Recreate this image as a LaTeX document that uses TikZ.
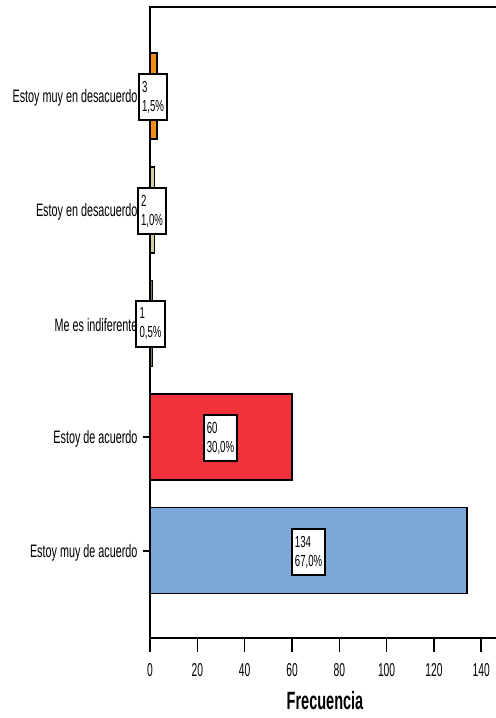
\documentclass[tikz,border=0pt]{standalone}
\usepackage{fontspec}
\setmainfont{Liberation Sans}
\newfontfamily\catfont[FakeStretch=0.6]{Liberation Sans}
\newfontfamily\tickfont[FakeStretch=0.55]{Liberation Sans}
\newfontfamily\cntfont[FakeStretch=0.6]{Liberation Sans}
\newfontfamily\titlefont[FakeStretch=0.58]{Liberation Sans}

\tikzset{every picture/.style={line width=0.75pt}}
\tikzset{
  catlabel/.style={anchor=east,inner sep=0pt,font=\catfont\fontsize{13.5}{16}\selectfont},
  ticklabel/.style={inner sep=0pt,font=\tickfont\fontsize{14}{16}\selectfont},
  cntbox/.style={draw,line width=1.5pt,fill=white,align=left,inner xsep=2.3pt,inner ysep=0pt,
    minimum height=34.5pt,font=\cntfont\fontsize{12}{14.25}\selectfont},
  bar/.style={draw,line width=1.1pt}
}

\begin{document}
\begin{tikzpicture}[x=0.75pt,y=0.75pt,yscale=-1,xscale=1]
		\useasboundingbox (0,0) rectangle (496,718);

		%Shape: Rectangle [id:bar muy en desacuerdo]
		\draw [bar,fill={rgb, 255:red, 240; green, 140; blue, 22 }] (150,53) rectangle (157.1,139) ;
		%Shape: Rectangle [id:bar en desacuerdo]
		\draw [bar,fill={rgb, 255:red, 212; green, 206; blue, 160 }] (150,167) rectangle (154.7,253) ;
		%Shape: Rectangle [id:bar indiferente]
		\draw [bar,fill={rgb, 255:red, 128; green, 125; blue, 98 }] (150,280.5) rectangle (152.4,366.5) ;
		%Shape: Rectangle [id:bar de acuerdo]
		\draw [bar,fill={rgb, 255:red, 240; green, 50; blue, 58 }] (150,394) rectangle (292,480) ;
		%Shape: Rectangle [id:bar muy de acuerdo]
		\draw [bar,fill={rgb, 255:red, 123; green, 168; blue, 214 }] (150,507.5) rectangle (467,593.5) ;

		%Straight Lines [id:frame]
		\draw [line width=1.5pt] (496,7) -- (150,7) -- (150,638) -- (496,638) ;

		%Straight Lines [id:y ticks]
		\draw [line width=1.5pt] (143,96) -- (150,96) ;
		\draw [line width=1.5pt] (143,210) -- (150,210) ;
		\draw [line width=1.5pt] (143,323.5) -- (150,323.5) ;
		\draw [line width=1.5pt] (143,437) -- (150,437) ;
		\draw [line width=1.5pt] (143,550.5) -- (150,550.5) ;

		%Straight Lines [id:x ticks]
		\draw [line width=1.1pt] (150,638) -- (150,652) ;
		\draw [line width=1.1pt] (197.3,638) -- (197.3,652) ;
		\draw [line width=1.1pt] (244.6,638) -- (244.6,652) ;
		\draw [line width=1.1pt] (292,638) -- (292,652) ;
		\draw [line width=1.1pt] (339.3,638) -- (339.3,652) ;
		\draw [line width=1.1pt] (386.6,638) -- (386.6,652) ;
		\draw [line width=1.1pt] (433.9,638) -- (433.9,652) ;
		\draw [line width=1.1pt] (481.2,638) -- (481.2,652) ;

		% Text Node
		\node [catlabel] (c1) at (138,98) {Estoy muy en desacuerdo};
		% Text Node
		\node [catlabel] (c2) at (138,212) {Estoy en desacuerdo};
		% Text Node
		\node [catlabel] (c3) at (138,325.5) {Me es indiferente};
		% Text Node
		\node [catlabel] (c4) at (138,439) {Estoy de acuerdo};
		% Text Node
		\node [catlabel] (c5) at (138,552.5) {Estoy muy de acuerdo};

		% Text Node
		\node [cntbox] (n1) at (153,97) {3\\1,5\%};
		% Text Node
		\node [cntbox] (n2) at (152,211) {2\\1,0\%};
		% Text Node
		\node [cntbox] (n3) at (150.5,324) {1\\0,5\%};
		% Text Node
		\node [cntbox] (n4) at (220.5,438.3) {60\\30,0\%};
		% Text Node
		\node [cntbox] (n5) at (308.6,552.3) {134\\67,0\%};

		% Text Node
		\node [ticklabel] (t0) at (150,670) {0};
		% Text Node
		\node [ticklabel] (t20) at (197.3,670) {20};
		% Text Node
		\node [ticklabel] (t40) at (244.6,670) {40};
		% Text Node
		\node [ticklabel] (t60) at (292,670) {60};
		% Text Node
		\node [ticklabel] (t80) at (339.3,670) {80};
		% Text Node
		\node [ticklabel] (t100) at (386.6,670) {100};
		% Text Node
		\node [ticklabel] (t120) at (433.9,670) {120};
		% Text Node
		\node [ticklabel] (t140) at (481.2,670) {140};

		% Text Node
		\node [inner sep=0pt,font=\titlefont\bfseries\fontsize{18.75}{22}\selectfont] (xtitle) at (325,701) {Frecuencia};

\end{tikzpicture}
\end{document}
